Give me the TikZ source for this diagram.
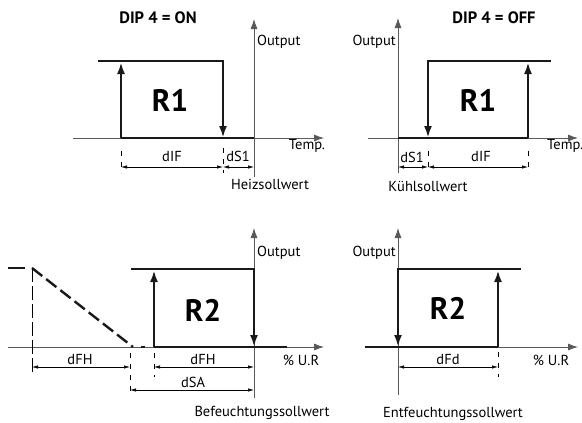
\documentclass[tikz,border=0pt]{standalone}
\usepackage{fontspec}
\setmainfont{PT Sans}
\usetikzlibrary{arrows.meta}
\begin{document}
\begin{tikzpicture}[x=1pt,y=-1pt,
  axis/.style={line width=0.8pt, draw=black!65, -{Latex[length=10pt,width=7pt]}},
  bold/.style={line width=2.4pt, draw=black!90},
  boldarrow/.style={line width=2.4pt, draw=black!90, -{Latex[length=12pt,width=8pt]}},
  dim/.style={line width=0.6pt, {Latex[length=6pt,width=3.4pt]}-{Latex[length=6pt,width=3.4pt]}},
  refline/.style={line width=0.6pt, dash pattern=on 5pt off 6pt},
  longref/.style={line width=0.6pt, dash pattern=on 14pt off 4pt},
  lbl/.style={font=\fontsize{14.5}{16}\selectfont, inner sep=0pt},
  ttl/.style={font=\fontsize{16.5}{18}\selectfont\bfseries, inner sep=0pt},
  big/.style={font=\fontsize{31}{34}\selectfont\bfseries, inner sep=0pt}
]
\useasboundingbox (0,0) rectangle (582,423);

% ---------------- Panel 1 : DIP 4 = ON
\node[ttl] (t1) at (158,18) {DIP 4 = ON};
\draw[axis] (73,138) -- (324,138);
\draw[axis] (254,177) -- (254,19);
\node[lbl, anchor=west] (o1) at (257,42) {Output};
\node[lbl] (x1) at (307,146) {Temp.};
\draw[bold] (121,138) -- (254,138);
\draw[boldarrow] (98,61) -- (223,61) -- (223,138);
\draw[boldarrow] (121,138) -- (121,62);
\node[big] (r1a) at (170,100) {R1};
\draw[refline] (121,151) -- (121,173);
\draw[refline] (223,148) -- (223,173);
\coordinate (d1a) at (121,167);
\coordinate (d1b) at (223,167);
\coordinate (d1c) at (254,167);
\draw[dim] (d1a) -- (d1b);
\draw[dim] (d1b) -- (d1c);
\node[lbl] (l1a) at (172,157) {dIF};
\node[lbl] (l1b) at (238,156) {dS1};
\node[lbl] (s1) at (270,184) {Heizsollwert};

% ---------------- Panel 2 : DIP 4 = OFF
\node[ttl] (t2) at (494,18) {DIP 4 = OFF};
\draw[axis] (368,138) -- (578,138);
\draw[axis] (398,173) -- (398,18);
\node[lbl, anchor=east] (o2) at (396,42) {Output};
\node[lbl, anchor=west] (x2) at (547,146) {Temp.};
\draw[bold] (398,138) -- (528,138);
\draw[boldarrow] (551,61) -- (428,61) -- (428,138);
\draw[boldarrow] (528,138) -- (528,62);
\node[big] (r1b) at (478,100) {R1};
\draw[refline] (428,151) -- (428,173);
\draw[refline] (528,151) -- (528,173);
\coordinate (d2a) at (398,167);
\coordinate (d2b) at (428,167);
\coordinate (d2c) at (528,167);
\draw[dim] (d2a) -- (d2b);
\draw[dim] (d2b) -- (d2c);
\node[lbl] (l2a) at (412,157) {dS1};
\node[lbl] (l2b) at (481,157) {dIF};
\node[lbl] (s2) at (428,186) {Kühlsollwert};

% ---------------- Panel 3 : R2 humidify
\draw[axis] (8,347) -- (324,347);
\draw[axis] (254,398) -- (254,228);
\node[lbl, anchor=west] (o3) at (257,253) {Output};
\node[lbl] (x3) at (301,360) {\% U.R};
\draw[bold] (154,347) -- (287,347);
\draw[boldarrow] (131,269) -- (254,269) -- (254,347);
\draw[boldarrow] (154,347) -- (154,270);
\node[big] (r2a) at (203,310) {R2};
% dashed proportional line
\draw[bold] (8,268) -- (25,268);
\draw[bold, dash pattern=on 13pt off 5pt] (32,268) -- (133,347);
\draw[bold] (141,347) -- (145,347);
\draw[longref] (32,268) -- (32,372);
\draw[refline] (130,353) -- (130,395);
\draw[refline] (154,353) -- (154,377);
\coordinate (d3a) at (32,367);
\coordinate (d3b) at (130,367);
\coordinate (d3c) at (154,367);
\coordinate (d3d) at (254,367);
\coordinate (d3e) at (130,390);
\coordinate (d3f) at (254,390);
\draw[dim] (d3a) -- (d3b);
\draw[dim] (d3c) -- (d3d);
\draw[dim] (d3e) -- (d3f);
\node[lbl] (l3a) at (80,360) {dFH};
\node[lbl] (l3b) at (203,360) {dFH};
\node[lbl] (l3c) at (193,382) {dSA};
\node[lbl] (s3) at (262,413) {Befeuchtungssollwert};

% ---------------- Panel 4 : R2 dehumidify
\draw[axis] (365,347) -- (578,347);
\draw[axis] (398,395) -- (398,228);
\node[lbl, anchor=east] (o4) at (396,253) {Output};
\node[lbl] (x4) at (551,360) {\% U.R};
\draw[bold] (365,347) -- (498,347);
\draw[boldarrow] (521,269) -- (398,269) -- (398,347);
\draw[boldarrow] (498,347) -- (498,270);
\node[big] (r2b) at (448,308) {R2};
\draw[refline] (498,352) -- (498,377);
\coordinate (d4a) at (398,367);
\coordinate (d4b) at (498,367);
\draw[dim] (d4a) -- (d4b);
\node[lbl] (l4a) at (448,360) {dFd};
\node[lbl] (s4) at (453,414) {Entfeuchtungssollwert};
\end{tikzpicture}
\end{document}
